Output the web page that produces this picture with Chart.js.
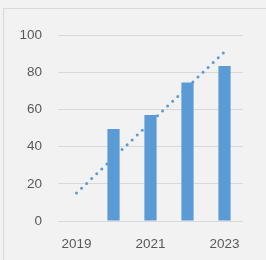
<!DOCTYPE html>
<html>
<head>
<meta charset="utf-8">
<script src="https://cdn.jsdelivr.net/npm/chart.js@4/dist/chart.umd.min.js"></script>
<style>
  html, body { margin: 0; padding: 0; background: #f2f2f2; }
  #wrap { position: relative; width: 266px; height: 260px; overflow: hidden; }
  #frame { position: absolute; left: 3px; top: 8px; width: 300px; height: 300px; border: 1.5px solid #d9d9d9; box-sizing: border-box; }
  canvas { position: absolute; left: 0; top: 0; }
</style>
</head>
<body>
<div id="wrap">
  <div id="frame"></div>
  <canvas id="chart" width="266" height="260"></canvas>
</div>
<script>
const years = ['2019', '2020', '2021', '2022', '2023'];
const barValues = [0, 49.5, 57, 74.5, 83.3];
const trendValues = [15, 34, 53, 72, 91];
const yTicks = [0, 20, 40, 60, 80, 100];

const blue = '#5b9bd5';
const labelFont = { family: 'Liberation Sans, Arial, sans-serif', size: 13.5 };

const ctx = document.getElementById('chart').getContext('2d');
new Chart(ctx, {
  type: 'bar',
  data: {
    labels: years,
    datasets: [
      {
        type: 'line',
        label: 'Trend',
        data: trendValues,
        borderColor: blue,
        borderWidth: 3,
        borderDash: [0, 7],
        borderCapStyle: 'round',
        pointRadius: 0,
        fill: false,
        order: 0
      },
      {
        label: 'Value',
        data: barValues,
        backgroundColor: blue,
        borderWidth: 0,
        barPercentage: 0.33,
        categoryPercentage: 1,
        order: 1
      }
    ]
  },
  options: {
    responsive: false,
    animation: false,
    layout: { padding: { left: 0, right: 23, top: 35, bottom: 0 } },
    plugins: { legend: { display: false }, tooltip: { enabled: false } },
    scales: {
      x: {
        offset: true,
        grid: { display: false, drawTicks: false },
        border: { display: false },
        ticks: {
          color: '#595959',
          font: labelFont,
          autoSkip: false,
          maxRotation: 0,
          padding: 15,
          callback: (v, i) => (i % 2 === 0 ? years[i] : '')
        },
        afterFit: scale => { scale.height = 39; }
      },
      y: {
        min: yTicks[0],
        max: yTicks[yTicks.length - 1],
        grid: { color: '#d9d9d9', lineWidth: 1, drawTicks: false },
        border: { display: false },
        ticks: {
          color: '#595959',
          font: labelFont,
          stepSize: 20,
          padding: 16
        },
        afterBuildTicks: scale => { scale.ticks = yTicks.map(v => ({ value: v })); },
        afterFit: scale => { scale.width = 58; }
      }
    }
  }
});
</script>
</body>
</html>
